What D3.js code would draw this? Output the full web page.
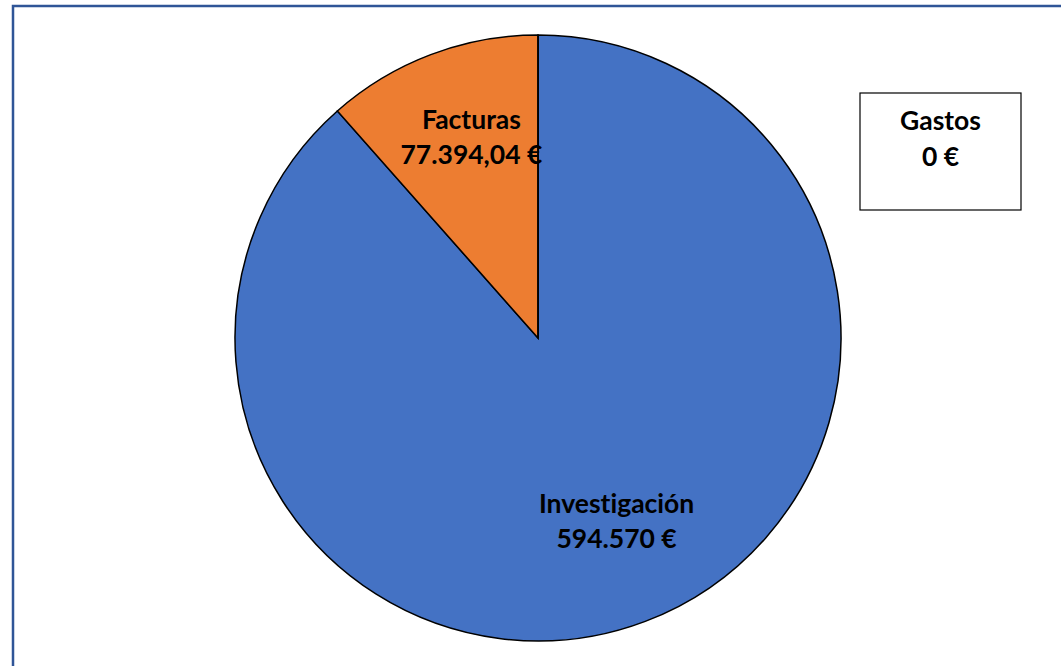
<!DOCTYPE html>
<html>
<head>
<meta charset="utf-8">
<script src="https://cdn.jsdelivr.net/npm/d3@7"></script>
<style>
  html, body { margin: 0; padding: 0; background: #fff; overflow: hidden; }
  text { font-family: Lato, "Open Sans", sans-serif; font-weight: 700; fill: #000;
         font-variant-ligatures: none; }
</style>
</head>
<body>
<script>
(function () {
    "use strict";

    // chart data
    var categories = ["Investigación", "Facturas", "Gastos"];
    var values = [594570, 77394.04, 0];
    var valueLabels = ["594.570 €", "77.394,04 €", "0 €"];
    var colors = ["#4472C4", "#ED7D31", "#A5A5A5"];

    var width = 1061, height = 666;
    var cx = 538, cy = 338, radius = 303;
    var fontSize = 26.5, lineGap = 35;

    var svg = d3.select("body").append("svg")
        .attr("width", width)
        .attr("height", height);

    // chart frame (runs off the right and bottom of the picture)
    svg.append("rect")
        .attr("x", 13)
        .attr("y", 6)
        .attr("width", width + 20)
        .attr("height", height + 20)
        .attr("fill", "white")
        .attr("stroke", "#2F5597")
        .attr("stroke-width", 2.5);

    var pie = d3.pie().sort(null).value(function (d) { return d; });
    var arcs = pie(values);

    var arc = d3.arc().innerRadius(0).outerRadius(radius);
    var labelArc = d3.arc().innerRadius(205).outerRadius(205);

    var g = svg.append("g")
        .attr("transform", "translate(" + cx + "," + cy + ")");

    g.selectAll("path.slice")
        .data(arcs)
        .enter()
        .append("path")
        .attr("class", "slice")
        .attr("d", arc)
        .attr("fill", function (d, i) { return colors[i]; })
        .attr("stroke", "#000")
        .attr("stroke-width", 1.5);

    // in-slice labels for non-zero slices
    var labelled = arcs.filter(function (d) { return d.value > 0; });
    var labels = g.selectAll("text.lbl")
        .data(labelled)
        .enter()
        .append("text")
        .attr("class", "lbl")
        .attr("text-anchor", "middle")
        .attr("font-size", fontSize)
        .attr("transform", function (d) {
            var c = labelArc.centroid(d);
            return "translate(" + (c[0] + 6) + "," + (c[1] - 17) + ")";
        });
    labels.append("tspan")
        .attr("x", 0).attr("y", 0)
        .text(function (d) { return categories[d.index]; });
    labels.append("tspan")
        .attr("x", 0).attr("y", lineGap)
        .text(function (d) { return valueLabels[d.index]; });

    // zero slice gets a boxed callout
    arcs.filter(function (d) { return d.value === 0; }).forEach(function (d) {
        var box = svg.append("g").attr("transform", "translate(860,93)");
        box.append("rect")
            .attr("width", 161)
            .attr("height", 117)
            .attr("fill", "white")
            .attr("stroke", "#000")
            .attr("stroke-width", 1.2);
        var t = box.append("text")
            .attr("text-anchor", "middle")
            .attr("font-size", fontSize);
        t.append("tspan").attr("x", 80.5).attr("y", 37).text(categories[d.index]);
        t.append("tspan").attr("x", 80.5).attr("y", 37 + lineGap + 1).text(valueLabels[d.index]);
    });
})();
</script>
</body>
</html>
